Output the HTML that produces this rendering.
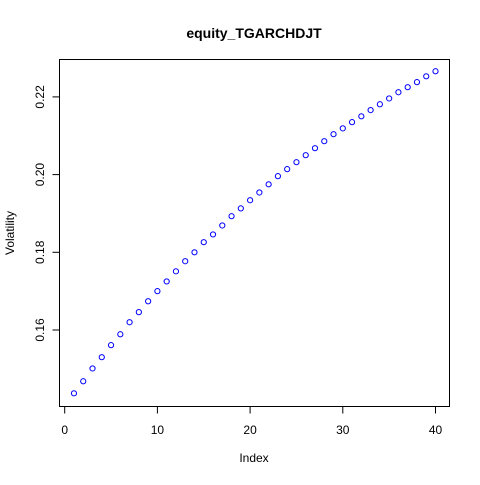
<!DOCTYPE html>
<html><head><meta charset="utf-8"><style>
body{margin:0;background:#fff}
svg text{font-family:"Liberation Sans",Arial,sans-serif}
</style></head><body>
<svg id="chart" width="480" height="480" xmlns="http://www.w3.org/2000/svg">
<rect width="480" height="480" fill="#fff"/>
<text x="254" y="38" text-anchor="middle" font-size="14" font-weight="bold">equity_TGARCHDJT</text>
<rect x="59.5" y="59.5" width="390" height="347" fill="none" stroke="#000" stroke-width="1"/>
<g id="xaxis"></g>
<g id="yaxis"></g>
<g id="points"></g>
<text x="254" y="462" text-anchor="middle" font-size="12">Index</text>
<text transform="translate(14,233) rotate(-90)" text-anchor="middle" font-size="12">Volatility</text>
</svg>
<script>
const values=[0.1437,0.1468,0.1501,0.1530,0.1561,0.1589,0.1620,0.1646,0.1674,0.1700,0.1725,0.1751,0.1777,0.1800,0.1826,0.1846,0.1869,0.1893,0.1913,0.1934,0.1954,0.1975,0.1996,0.2014,0.2032,0.2050,0.2068,0.2086,0.2104,0.2119,0.2135,0.2150,0.2166,0.2181,0.2196,0.2212,0.2225,0.2238,0.2253,0.2266];
const xTicks=[0,10,20,30,40];
const yTicks=[0.16,0.18,0.20,0.22];
const yTickLabels=["0.16","0.18","0.20","0.22"];
const NS="http://www.w3.org/2000/svg";
function xs(i){return 64.7+i*9.27;}
function ys(v){return 330-(v-0.16)*3885;}
function mk(t,a,p){const e=document.createElementNS(NS,t);for(const k in a)e.setAttribute(k,a[k]);p.appendChild(e);return e;}
const xa=document.getElementById('xaxis'),ya=document.getElementById('yaxis'),pg=document.getElementById('points');
mk('line',{x1:xs(0),x2:xs(40),y1:406.5,y2:406.5,stroke:'#000'},xa);
xTicks.forEach(t=>{
  const l=mk('line',{x1:xs(t),x2:xs(t),y1:406.5,y2:413.5,stroke:'#000'},xa);
  
  
  const tx=mk('text',{x:xs(t),y:434,'text-anchor':'middle','font-size':'12'},xa);
  tx.textContent=t;
  
  
});
mk('line',{x1:59.5,x2:59.5,y1:ys(0.16),y2:ys(0.22),stroke:'#000'},ya);
yTicks.forEach((t,i)=>{
  const l=mk('line',{x1:52.5,x2:59.5,y1:ys(t),y2:ys(t),stroke:'#000'},ya);
  
  
  const tx=mk('text',{transform:`translate(44,${ys(t)}) rotate(-90)`,'text-anchor':'middle','font-size':'12'},ya);
  tx.textContent=yTickLabels[i];
  
  
});
values.forEach((v,i)=>{
  const c=mk('circle',{cx:xs(i+1),cy:ys(v),r:2.6,fill:'none',stroke:'#0000ff','stroke-width':'1'},pg);
  
  
});
</script>
</body></html>
